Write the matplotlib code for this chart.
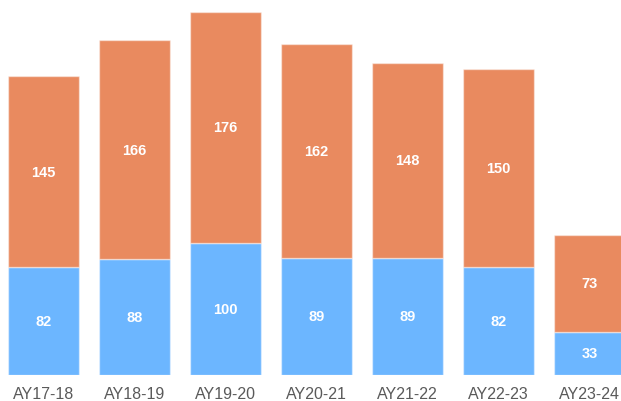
import matplotlib
matplotlib.use("Agg")
import matplotlib.pyplot as plt

categories = ["AY17-18", "AY18-19", "AY19-20", "AY20-21", "AY21-22", "AY22-23", "AY23-24"]
blue_vals = [82, 88, 100, 89, 89, 82, 33]
orange_vals = [145, 166, 176, 162, 148, 150, 73]

plt.rcParams['font.family'] = ['Liberation Sans', 'DejaVu Sans']

fig = plt.figure(figsize=(6.21, 4.02), dpi=100)
ax = fig.add_axes([0, 1 - 376 / 402, 1, 376 / 402])

x = list(range(len(categories)))
w = 0.78
blue = "#6CB6FF"
orange = "#E98A5F"
ax.bar(x, blue_vals, width=w, color=blue, edgecolor=(1, 1, 1, 0.45), linewidth=1)
ax.bar(x, orange_vals, width=w, bottom=blue_vals, color=orange, edgecolor=(1, 1, 1, 0.45), linewidth=1)

for i in x:
    ax.text(i, blue_vals[i] / 2, str(blue_vals[i]), ha='center', va='center',
            color='white', fontsize=10.5, fontweight='bold')
    ax.text(i, blue_vals[i] + orange_vals[i] / 2, str(orange_vals[i]), ha='center', va='center',
            color='white', fontsize=10.5, fontweight='bold')

ax.set_xlim(-43.5 / 91, (621 - 43.5) / 91)
ax.set_ylim(0, 376 / 1.317)
ax.set_xticks(x)
ax.set_xticklabels(categories, color='#5a5a5a', fontsize=11.5)
ax.tick_params(axis='x', length=0, pad=8)
ax.set_yticks([])
for s in ax.spines.values():
    s.set_visible(False)

fig.savefig("out.png", dpi=100)
